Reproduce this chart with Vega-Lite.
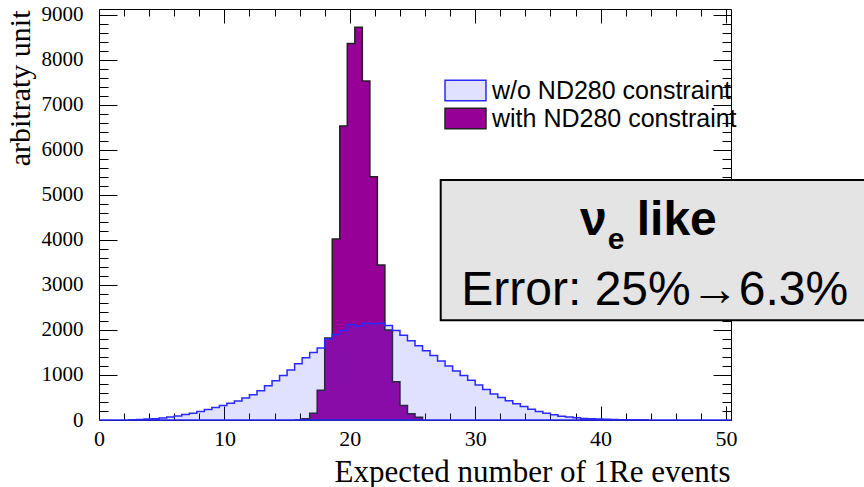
{
  "$schema": "https://vega.github.io/schema/vega-lite/v6.json",
  "width": 632,
  "height": 411,
  "autosize": "none",
  "padding": {"left": 99, "top": 9, "right": 133, "bottom": 67},
  "background": "white",
  "config": {
    "view": {"stroke": null},
    "axis": {"grid": false, "domainColor": "black", "domainWidth": 1, "tickColor": "black", "tickWidth": 1, "labelColor": "black", "titleColor": "black", "labelFont": "Liberation Serif", "titleFont": "Liberation Serif", "titleFontWeight": "normal"}
  },
  "datasets": {
    "hist": [
      {"series": "w/o ND280 constraint", "x": 0, "y": 0},
      {"series": "w/o ND280 constraint", "x": 0.6, "y": 0},
      {"series": "w/o ND280 constraint", "x": 1.2, "y": 0},
      {"series": "w/o ND280 constraint", "x": 1.8, "y": 2},
      {"series": "w/o ND280 constraint", "x": 2.4, "y": 5},
      {"series": "w/o ND280 constraint", "x": 3.0, "y": 10},
      {"series": "w/o ND280 constraint", "x": 3.6, "y": 20},
      {"series": "w/o ND280 constraint", "x": 4.2, "y": 30},
      {"series": "w/o ND280 constraint", "x": 4.8, "y": 45},
      {"series": "w/o ND280 constraint", "x": 5.4, "y": 65},
      {"series": "w/o ND280 constraint", "x": 6.0, "y": 90},
      {"series": "w/o ND280 constraint", "x": 6.6, "y": 120},
      {"series": "w/o ND280 constraint", "x": 7.2, "y": 150},
      {"series": "w/o ND280 constraint", "x": 7.8, "y": 190},
      {"series": "w/o ND280 constraint", "x": 8.4, "y": 235},
      {"series": "w/o ND280 constraint", "x": 9.0, "y": 280},
      {"series": "w/o ND280 constraint", "x": 9.6, "y": 320},
      {"series": "w/o ND280 constraint", "x": 10.2, "y": 370},
      {"series": "w/o ND280 constraint", "x": 10.8, "y": 420},
      {"series": "w/o ND280 constraint", "x": 11.4, "y": 490},
      {"series": "w/o ND280 constraint", "x": 12.0, "y": 560},
      {"series": "w/o ND280 constraint", "x": 12.6, "y": 650},
      {"series": "w/o ND280 constraint", "x": 13.2, "y": 760},
      {"series": "w/o ND280 constraint", "x": 13.8, "y": 870},
      {"series": "w/o ND280 constraint", "x": 14.4, "y": 990},
      {"series": "w/o ND280 constraint", "x": 15.0, "y": 1110},
      {"series": "w/o ND280 constraint", "x": 15.6, "y": 1250},
      {"series": "w/o ND280 constraint", "x": 16.2, "y": 1380},
      {"series": "w/o ND280 constraint", "x": 16.8, "y": 1500},
      {"series": "w/o ND280 constraint", "x": 17.4, "y": 1600},
      {"series": "w/o ND280 constraint", "x": 18.0, "y": 1800},
      {"series": "w/o ND280 constraint", "x": 18.6, "y": 1900},
      {"series": "w/o ND280 constraint", "x": 19.2, "y": 1990},
      {"series": "w/o ND280 constraint", "x": 19.8, "y": 2120},
      {"series": "w/o ND280 constraint", "x": 20.4, "y": 2090},
      {"series": "w/o ND280 constraint", "x": 21.0, "y": 2150},
      {"series": "w/o ND280 constraint", "x": 21.6, "y": 2140},
      {"series": "w/o ND280 constraint", "x": 22.2, "y": 2150},
      {"series": "w/o ND280 constraint", "x": 22.8, "y": 2100},
      {"series": "w/o ND280 constraint", "x": 23.4, "y": 1990},
      {"series": "w/o ND280 constraint", "x": 24.0, "y": 1880},
      {"series": "w/o ND280 constraint", "x": 24.6, "y": 1760},
      {"series": "w/o ND280 constraint", "x": 25.2, "y": 1650},
      {"series": "w/o ND280 constraint", "x": 25.8, "y": 1540},
      {"series": "w/o ND280 constraint", "x": 26.4, "y": 1430},
      {"series": "w/o ND280 constraint", "x": 27.0, "y": 1310},
      {"series": "w/o ND280 constraint", "x": 27.6, "y": 1200},
      {"series": "w/o ND280 constraint", "x": 28.2, "y": 1090},
      {"series": "w/o ND280 constraint", "x": 28.8, "y": 990},
      {"series": "w/o ND280 constraint", "x": 29.4, "y": 880},
      {"series": "w/o ND280 constraint", "x": 30.0, "y": 780},
      {"series": "w/o ND280 constraint", "x": 30.6, "y": 680},
      {"series": "w/o ND280 constraint", "x": 31.2, "y": 580},
      {"series": "w/o ND280 constraint", "x": 31.8, "y": 500},
      {"series": "w/o ND280 constraint", "x": 32.4, "y": 430},
      {"series": "w/o ND280 constraint", "x": 33.0, "y": 360},
      {"series": "w/o ND280 constraint", "x": 33.6, "y": 300},
      {"series": "w/o ND280 constraint", "x": 34.2, "y": 240},
      {"series": "w/o ND280 constraint", "x": 34.8, "y": 190},
      {"series": "w/o ND280 constraint", "x": 35.4, "y": 150},
      {"series": "w/o ND280 constraint", "x": 36.0, "y": 115},
      {"series": "w/o ND280 constraint", "x": 36.6, "y": 85},
      {"series": "w/o ND280 constraint", "x": 37.2, "y": 65},
      {"series": "w/o ND280 constraint", "x": 37.8, "y": 50},
      {"series": "w/o ND280 constraint", "x": 38.4, "y": 35},
      {"series": "w/o ND280 constraint", "x": 39.0, "y": 28},
      {"series": "w/o ND280 constraint", "x": 39.6, "y": 22},
      {"series": "w/o ND280 constraint", "x": 40.2, "y": 16},
      {"series": "w/o ND280 constraint", "x": 40.8, "y": 12},
      {"series": "w/o ND280 constraint", "x": 41.4, "y": 8},
      {"series": "w/o ND280 constraint", "x": 42.0, "y": 6},
      {"series": "w/o ND280 constraint", "x": 42.6, "y": 4},
      {"series": "w/o ND280 constraint", "x": 43.2, "y": 3},
      {"series": "w/o ND280 constraint", "x": 43.8, "y": 2},
      {"series": "w/o ND280 constraint", "x": 44.4, "y": 2},
      {"series": "w/o ND280 constraint", "x": 45.0, "y": 1},
      {"series": "w/o ND280 constraint", "x": 45.6, "y": 1},
      {"series": "w/o ND280 constraint", "x": 46.2, "y": 1},
      {"series": "w/o ND280 constraint", "x": 46.8, "y": 0},
      {"series": "w/o ND280 constraint", "x": 47.4, "y": 0},
      {"series": "w/o ND280 constraint", "x": 48.0, "y": 0},
      {"series": "w/o ND280 constraint", "x": 48.6, "y": 0},
      {"series": "w/o ND280 constraint", "x": 49.2, "y": 0},
      {"series": "w/o ND280 constraint", "x": 49.8, "y": 0},
      {"series": "w/o ND280 constraint", "x": 50.4, "y": 0},
      {"series": "with ND280 constraint", "x": 15.6, "y": 0},
      {"series": "with ND280 constraint", "x": 16.2, "y": 30},
      {"series": "with ND280 constraint", "x": 16.8, "y": 150},
      {"series": "with ND280 constraint", "x": 17.4, "y": 660},
      {"series": "with ND280 constraint", "x": 18.0, "y": 1820},
      {"series": "with ND280 constraint", "x": 18.6, "y": 4020},
      {"series": "with ND280 constraint", "x": 19.2, "y": 6530},
      {"series": "with ND280 constraint", "x": 19.8, "y": 8360},
      {"series": "with ND280 constraint", "x": 20.4, "y": 8720},
      {"series": "with ND280 constraint", "x": 21.0, "y": 7530},
      {"series": "with ND280 constraint", "x": 21.6, "y": 5400},
      {"series": "with ND280 constraint", "x": 22.2, "y": 3440},
      {"series": "with ND280 constraint", "x": 22.8, "y": 2000},
      {"series": "with ND280 constraint", "x": 23.4, "y": 850},
      {"series": "with ND280 constraint", "x": 24.0, "y": 320},
      {"series": "with ND280 constraint", "x": 24.6, "y": 140},
      {"series": "with ND280 constraint", "x": 25.2, "y": 60},
      {"series": "with ND280 constraint", "x": 25.8, "y": 0}
    ],
    "box": [{"x": 27.25, "x2": 62, "y": 2216, "y2": 5327}],
    "note": [{"x": 44.0, "y1": 4104, "y2": 2549, "nu": "ν", "sub": "e", "like": "like", "err": "Error: 25%→6.3%"}]
  },
  "layer": [
    {
      "data": {"name": "hist"},
      "transform": [{"filter": "datum.series === 'with ND280 constraint'"}],
      "mark": {"type": "area", "interpolate": "step-after", "strokeWidth": 1.5, "opacity": 1},
      "encoding": {
        "x": {"field": "x", "type": "quantitative", "scale": {"domain": [0, 50.4], "nice": false, "zero": false},
          "axis": {"orient": "bottom", "values": [0,2,4,6,8,10,12,14,16,18,20,22,24,26,28,30,32,34,36,38,40,42,44,46,48,50],
            "labelExpr": "datum.value % 10 === 0 ? datum.label : ''",
            "tickSize": {"condition": {"test": "datum.value % 10 === 0", "value": -14}, "value": -7},
            "labelFontSize": 22, "labelPadding": 22, "labelFlush": false,
            "title": "Expected number of 1Re events", "titleFontSize": 31, "titleAlign": "right", "titleAnchor": "end", "titleX": 631, "titleY": 61, "titleBaseline": "alphabetic"}},
        "y": {"field": "y", "type": "quantitative", "scale": {"domain": [0, 9127], "nice": false},
          "axis": {"orient": "left", "values": [0,200,400,600,800,1000,1200,1400,1600,1800,2000,2200,2400,2600,2800,3000,3200,3400,3600,3800,4000,4200,4400,4600,4800,5000,5200,5400,5600,5800,6000,6200,6400,6600,6800,7000,7200,7400,7600,7800,8000,8200,8400,8600,8800,9000],
            "format": "d",
            "labelExpr": "datum.value % 1000 === 0 ? datum.label : ''",
            "tickSize": {"condition": {"test": "datum.value % 1000 === 0", "value": -18}, "value": -9},
            "labelFontSize": 21, "labelPadding": 34, "labelFlush": false,
            "title": "arbitraty unit", "titleFontSize": 30, "titleAngle": -90, "titleAlign": "right", "titleBaseline": "middle", "titleX": -79, "titleY": 1}},
        "fill": {"field": "series", "type": "nominal",
          "scale": {"domain": ["w/o ND280 constraint", "with ND280 constraint"], "range": ["rgba(70,70,255,0.17)", "#960096"]},
          "legend": {"orient": "none", "legendX": 354, "legendY": 69, "title": null, "padding": 0,
            "symbolType": "M-2,-1L2,-1L2,1L-2,1Z", "symbolSize": 420, "symbolStrokeWidth": 1.5,
            "labelFont": "Liberation Sans", "labelFontSize": 25, "labelColor": "black", "labelOffset": 14, "rowPadding": 1, "labelLimit": 400}},
        "stroke": {"field": "series", "type": "nominal",
          "scale": {"domain": ["w/o ND280 constraint", "with ND280 constraint"], "range": ["#2a2aff", "#222222"]},
          "legend": {"orient": "none", "legendX": 354, "legendY": 69, "title": null, "padding": 0,
            "symbolType": "M-2,-1L2,-1L2,1L-2,1Z", "symbolSize": 420, "symbolStrokeWidth": 1.5,
            "labelFont": "Liberation Sans", "labelFontSize": 25, "labelColor": "black", "labelOffset": 14, "rowPadding": 1, "labelLimit": 400}}
      }
    },
    {
      "data": {"name": "hist"},
      "transform": [{"filter": "datum.series === 'w/o ND280 constraint'"}],
      "mark": {"type": "area", "interpolate": "step-after", "strokeWidth": 1.5, "opacity": 1},
      "encoding": {
        "x": {"field": "x", "type": "quantitative", "scale": {"domain": [0, 50.4], "nice": false, "zero": false},
          "axis": {"orient": "top", "values": [0,2,4,6,8,10,12,14,16,18,20,22,24,26,28,30,32,34,36,38,40,42,44,46,48,50],
            "labels": false, "title": null,
            "tickSize": {"condition": {"test": "datum.value % 10 === 0", "value": -14}, "value": -7}}},
        "y": {"field": "y", "type": "quantitative", "scale": {"domain": [0, 9127], "nice": false},
          "axis": {"orient": "right", "values": [0,200,400,600,800,1000,1200,1400,1600,1800,2000,2200,2400,2600,2800,3000,3200,3400,3600,3800,4000,4200,4400,4600,4800,5000,5200,5400,5600,5800,6000,6200,6400,6600,6800,7000,7200,7400,7600,7800,8000,8200,8400,8600,8800,9000],
            "labels": false, "title": null,
            "tickSize": {"condition": {"test": "datum.value % 1000 === 0", "value": -18}, "value": -9}}},
        "fill": {"field": "series", "type": "nominal", "scale": {"domain": ["w/o ND280 constraint", "with ND280 constraint"], "range": ["rgba(70,70,255,0.17)", "#960096"]}},
        "stroke": {"field": "series", "type": "nominal", "scale": {"domain": ["w/o ND280 constraint", "with ND280 constraint"], "range": ["#2a2aff", "#222222"]}}
      }
    },
    {
      "data": {"name": "box"},
      "mark": {"type": "rect", "fill": "#e4e4e4", "stroke": "black", "strokeWidth": 2, "clip": false},
      "encoding": {
        "x": {"field": "x", "type": "quantitative", "scale": {"domain": [0, 50.4], "nice": false, "zero": false}, "axis": null},
        "x2": {"field": "x2"},
        "y": {"field": "y", "type": "quantitative", "scale": {"domain": [0, 9127], "nice": false}, "axis": null},
        "y2": {"field": "y2"}
      }
    },
    {
      "data": {"name": "note"},
      "mark": {"type": "text", "font": "Liberation Sans", "fontWeight": "bold", "fontSize": 48, "align": "right", "baseline": "alphabetic", "dx": -44, "color": "black"},
      "encoding": {
        "x": {"field": "x", "type": "quantitative", "scale": {"domain": [0, 50.4], "nice": false, "zero": false}, "axis": null},
        "y": {"field": "y1", "type": "quantitative", "scale": {"domain": [0, 9127], "nice": false}, "axis": null},
        "text": {"field": "nu"}
      }
    },
    {
      "data": {"name": "note"},
      "mark": {"type": "text", "font": "Liberation Sans", "fontWeight": "bold", "fontSize": 30, "align": "left", "baseline": "alphabetic", "dx": -43, "dy": 14, "color": "black"},
      "encoding": {
        "x": {"field": "x", "type": "quantitative", "scale": {"domain": [0, 50.4], "nice": false, "zero": false}, "axis": null},
        "y": {"field": "y1", "type": "quantitative", "scale": {"domain": [0, 9127], "nice": false}, "axis": null},
        "text": {"field": "sub"}
      }
    },
    {
      "data": {"name": "note"},
      "mark": {"type": "text", "font": "Liberation Sans", "fontWeight": "bold", "fontSize": 48, "align": "left", "baseline": "alphabetic", "dx": -14, "color": "black"},
      "encoding": {
        "x": {"field": "x", "type": "quantitative", "scale": {"domain": [0, 50.4], "nice": false, "zero": false}, "axis": null},
        "y": {"field": "y1", "type": "quantitative", "scale": {"domain": [0, 9127], "nice": false}, "axis": null},
        "text": {"field": "like"}
      }
    },
    {
      "data": {"name": "note"},
      "mark": {"type": "text", "font": "Liberation Sans", "fontSize": 48, "align": "center", "baseline": "alphabetic", "dx": 4, "color": "black"},
      "encoding": {
        "x": {"field": "x", "type": "quantitative", "scale": {"domain": [0, 50.4], "nice": false, "zero": false}, "axis": null},
        "y": {"field": "y2", "type": "quantitative", "scale": {"domain": [0, 9127], "nice": false}, "axis": null},
        "text": {"field": "err"}
      }
    }
  ],
  "resolve": {"axis": {"x": "independent", "y": "independent"}}
}
